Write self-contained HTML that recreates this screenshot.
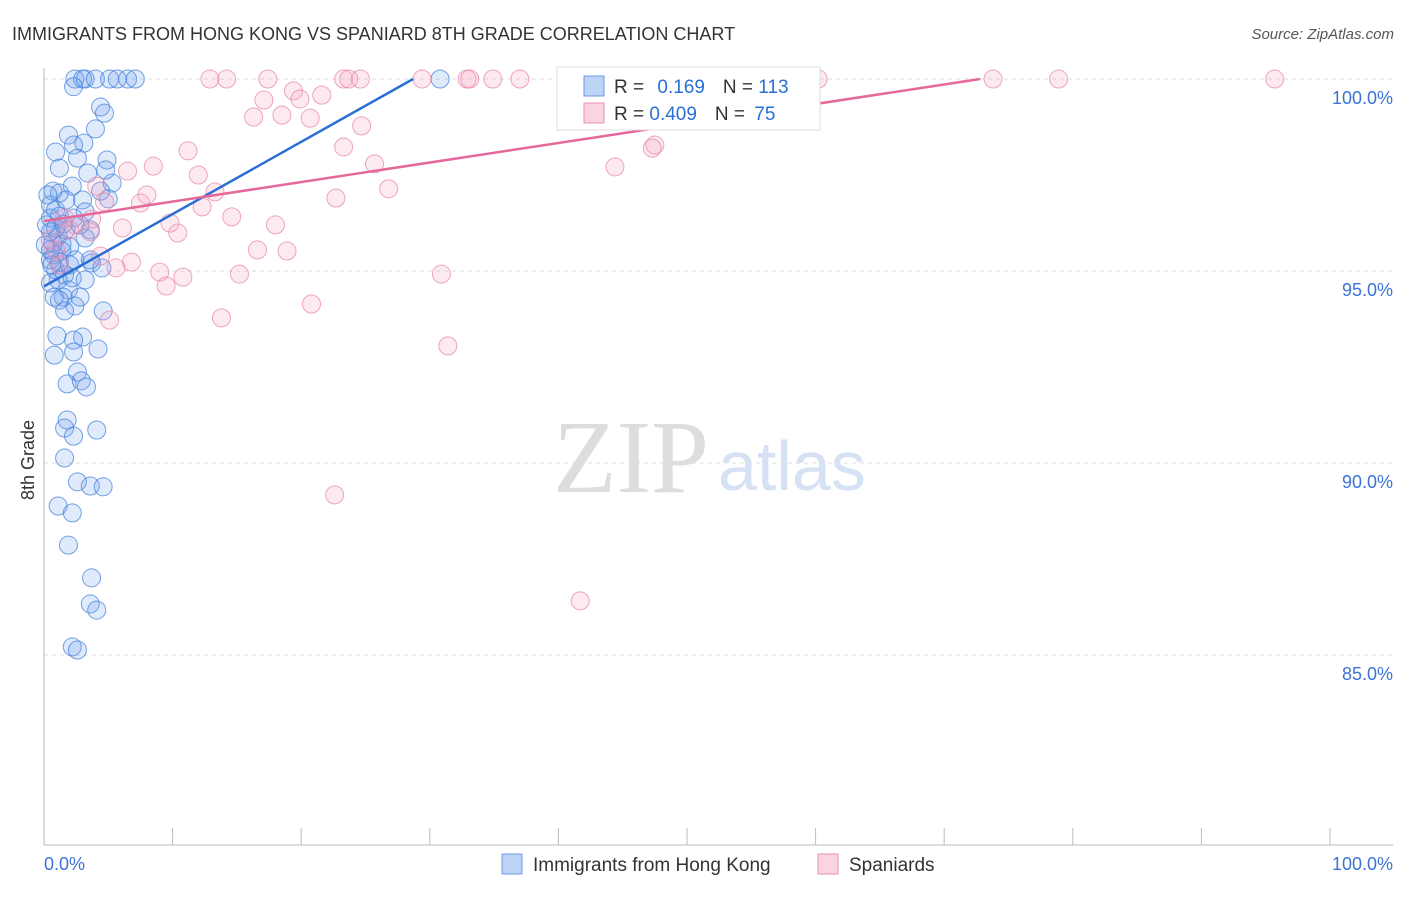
<!DOCTYPE html>
<html><head><meta charset="utf-8"><style>
body{margin:0;background:#fff;font-family:"Liberation Sans",sans-serif;}
</style></head><body>
<svg width="1406" height="892" xmlns="http://www.w3.org/2000/svg">
<text x="12" y="40" font-size="18" fill="#333">IMMIGRANTS FROM HONG KONG VS SPANIARD 8TH GRADE CORRELATION CHART</text>
<text x="1394" y="39" font-size="15" fill="#555" text-anchor="end" font-style="italic">Source: ZipAtlas.com</text>
<g id="grid"></g>
<text x="553" y="492" font-size="104" fill="#ddd" font-family="Liberation Serif,serif">ZIP</text>
<text x="718" y="490" font-size="70" fill="#d6e2f4">atlas</text>
<line x1="44" y1="68" x2="44" y2="845" stroke="#bbb"/>
<line x1="44" y1="845" x2="1393" y2="845" stroke="#bbb"/>
<text x="34" y="460" font-size="18" fill="#333" transform="rotate(-90 34 460)" text-anchor="middle">8th Grade</text>
<g id="ticks"></g>
<g id="pts"></g>
<g id="trends"></g>
<g>
<rect x="557" y="67" width="263" height="63" fill="#fff" stroke="#ddd"/>
<rect x="584" y="76" width="20" height="20" fill="rgba(110,160,235,0.45)" stroke="#6a9ae0"/>
<rect x="584" y="103" width="20" height="20" fill="rgba(245,160,190,0.45)" stroke="#e890b0"/>
<text x="614" y="93" font-size="19" fill="#333">R = <tspan fill="#2a6fd6" dx="8">0.169</tspan><tspan dx="18" fill="#333">N = </tspan><tspan fill="#2a6fd6">113</tspan></text>
<text x="614" y="120" font-size="19" fill="#333">R = <tspan fill="#2a6fd6">0.409</tspan><tspan dx="18" fill="#333">N = </tspan><tspan fill="#2a6fd6" dx="4">75</tspan></text>
</g>
<g>
<rect x="502" y="854" width="20" height="20" fill="rgba(110,160,235,0.45)" stroke="#6a9ae0"/>
<text x="533" y="871" font-size="19" fill="#333">Immigrants from Hong Kong</text>
<rect x="818" y="854" width="20" height="20" fill="rgba(245,160,190,0.45)" stroke="#e890b0"/>
<text x="849" y="871" font-size="19" fill="#333">Spaniards</text>
</g>
</svg>
<script>
const yTicks=[100,95,90,85];
const xTicks=[0,10,20,30,40,50,60,70,80,90,100];
const blueX=[2.4,3.0,3.2,4.0,5.1,5.7,6.5,7.1,2.3,4.4,4.7,4.0,1.9,3.1,2.3,0.9,2.6,4.9,1.2,4.8,3.4,5.3,2.2,0.7,1.2,3.0,5.0,0.5,3.2,1.2,0.5,2.3,1.5,3.6,0.5,1.1,3.2,0.7,2.0,1.4,0.8,3.7,4.5,0.9,1.6,2.2,0.5,1.9,1.5,2.8,0.8,2.4,1.6,4.6,1.0,3.0,2.3,2.3,0.8,4.2,2.6,1.8,2.9,3.3,1.8,1.6,2.3,4.1,1.6,2.6,3.6,4.6,1.1,2.2,1.9,3.7,3.6,4.1,2.2,2.6,30.8,0.5,1.2,0.1,0.2,0.9,1.7,0.6,1.1,2.0,1.4,0.3,2.4,3.2,2.8,3.6,1.2,0.5,0.9,1.7,4.4];
const blueY=[100,100,100,100,100,100,100,100,99.8,99.27,99.11,98.7,98.54,98.33,98.28,98.1,97.94,97.89,97.68,97.63,97.55,97.29,97.21,97.08,97.03,96.85,96.88,96.72,96.54,96.43,96.38,96.38,96.22,96.07,96.02,95.91,95.86,95.73,95.63,95.52,95.42,95.21,95.08,95.03,94.9,94.82,94.69,94.51,94.32,94.32,94.32,94.09,93.96,93.96,93.31,93.28,93.2,92.89,92.81,92.97,92.37,92.06,92.14,91.98,91.12,90.91,90.7,90.86,90.13,89.51,89.4,89.38,88.88,88.7,87.86,87.01,86.33,86.17,85.21,85.13,100,95.29,95.23,95.68,96.2,96.59,96.07,95.16,94.77,95.16,95.7,96.98,95.29,94.77,96.2,95.29,94.24,95.55,96.12,96.85,97.08];
const pinkX=[12.9,14.2,17.4,23.3,24.6,29.4,32.9,33.1,34.9,37.0,40.7,44.8,49.5,51.9,57.9,58.8,60.2,73.8,78.9,95.7,19.4,17.1,19.9,21.6,23.7,16.3,18.5,20.7,24.7,23.3,47.5,47.3,44.4,11.2,25.7,8.5,6.5,12.0,26.8,4.1,13.3,8.0,7.5,22.7,12.3,4.7,14.6,3.7,9.8,6.1,10.4,18.0,1.6,16.6,18.9,6.8,5.6,9.0,15.2,10.8,30.9,9.5,20.8,5.1,13.8,31.4,22.6,41.7,0.9,2.0,0.5,1.2,3.6,2.4,4.4];
const pinkY=[100,100,100,100,100,100,100,100,100,100,100,100,100,100,100,100,100,100,100,100,99.69,99.45,99.48,99.58,100,99.01,99.06,98.98,98.78,98.23,98.28,98.2,97.71,98.13,97.79,97.73,97.6,97.5,97.14,97.21,97.06,96.98,96.77,96.9,96.67,96.8,96.41,96.35,96.25,96.12,95.99,96.2,96.38,95.55,95.52,95.23,95.08,94.97,94.92,94.84,94.92,94.61,94.14,93.72,93.78,93.05,89.17,86.41,95.55,96.07,95.81,95.16,96.02,96.2,95.39];
const blueTrendX=[0,28.7],blueTrendY=[94.6,100];
const pinkTrendX=[0,72.8],pinkTrendY=[96.3,100];
const NS='http://www.w3.org/2000/svg';
function sx(v){return 44+v*12.86;}
function sy(v){return 79+(100-v)*38.4;}
function mk(t,a,p){const e=document.createElementNS(NS,t);for(const k in a)e.setAttribute(k,a[k]);p.appendChild(e);return e;}
const grid=document.getElementById('grid'),ticks=document.getElementById('ticks'),pts=document.getElementById('pts'),tr=document.getElementById('trends');
yTicks.forEach(v=>{
 const l=mk('line',{x1:44,x2:1393,y1:sy(v),y2:sy(v),stroke:'#ddd','stroke-dasharray':'4,4'},grid);
 
 
 const t=mk('text',{x:1393,y:sy(v)+25,'font-size':18,fill:'#3b74d4','text-anchor':'end'},ticks);
 t.textContent=v.toFixed(1)+'%';
 
 
});
xTicks.forEach(v=>{
 const l=mk('line',{x1:sx(v),x2:sx(v),y1:828,y2:845,stroke:'#bbb'},ticks);
 
 
});
[[0,'start',44],[100,'end',1393]].forEach(([v,a,x])=>{
 const t=mk('text',{x:x,y:870,'font-size':18,fill:'#3b74d4','text-anchor':a},ticks);
 t.textContent=v.toFixed(1)+'%';
 
 
});
blueX.forEach((x,i)=>{
 const c=mk('circle',{cx:sx(x),cy:sy(blueY[i]),r:9,fill:'rgba(110,160,235,0.22)',stroke:'rgba(70,130,220,0.75)','stroke-width':1},pts);
 
 
});
pinkX.forEach((x,i)=>{
 const c=mk('circle',{cx:sx(x),cy:sy(pinkY[i]),r:9,fill:'rgba(245,160,190,0.22)',stroke:'rgba(230,130,165,0.7)','stroke-width':1},pts);
 
 
});
const bl=mk('line',{x1:sx(blueTrendX[0]),y1:sy(blueTrendY[0]),x2:sx(blueTrendX[1]),y2:sy(blueTrendY[1]),stroke:'#2a6fd6','stroke-width':2.5},tr);


const pl=mk('line',{x1:sx(pinkTrendX[0]),y1:sy(pinkTrendY[0]),x2:sx(pinkTrendX[1]),y2:sy(pinkTrendY[1]),stroke:'#e6679a','stroke-width':2.5},tr);


</script>
</body></html>
